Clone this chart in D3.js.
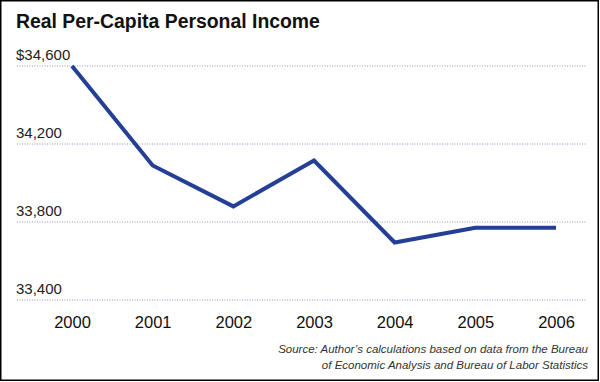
<!DOCTYPE html>
<html><head><meta charset="utf-8">
<script src="https://cdn.jsdelivr.net/npm/d3@7/dist/d3.min.js"></script>
<style>body{margin:0;background:#fff}svg{display:block}</style>
</head><body>
<script>
const years = ["2000","2001","2002","2003","2004","2005","2006"];
const income = [34600, 34090, 33880, 34115, 33695, 33770, 33770];
const yTicks = [33400, 33800, 34200, 34600];
const yTickLabels = ["33,400","33,800","34,200","$34,600"];

const W = 600, H = 382;
const svg = d3.select("body").append("svg").attr("width", W).attr("height", H);
svg.append("rect").attr("width", W).attr("height", H).attr("fill", "#fff");
svg.append("rect").attr("x", 0.75).attr("y", 0.75).attr("width", 597.5).attr("height", 379.5)
  .attr("fill", "none").attr("stroke", "#000").attr("stroke-width", 1.5);

const x = d3.scalePoint().domain(years).range([72, 556]);
const y = d3.scaleLinear().domain([33400, 34600]).range([300, 66]);

svg.append("text").attr("x", 16).attr("y", 28)
  .attr("font-family", "Liberation Sans, Arial, sans-serif").attr("font-weight", "bold")
  .attr("font-size", 19.4).attr("fill", "#111").text("Real Per-Capita Personal Income");

const g = svg.append("g");
yTicks.forEach((t, i) => {
  g.append("line").attr("x1", 17).attr("x2", 587).attr("y1", y(t)).attr("y2", y(t))
    .attr("stroke", "#8a96bb").attr("stroke-width", 1).attr("stroke-dasharray", "1,1.5");
  g.append("text").attr("x", 16).attr("y", y(t) - 6)
    .attr("font-family", "Liberation Sans, Arial, sans-serif").attr("font-size", 15)
    .attr("fill", "#222").text(yTickLabels[i]);
});

const xAxis = d3.axisBottom(x).tickSize(0).tickPadding(0);
const ax = svg.append("g").attr("transform", "translate(0,328)").call(xAxis);
ax.select(".domain").remove();
ax.selectAll("text").attr("font-family", "Liberation Sans, Arial, sans-serif")
  .attr("font-size", 16.5).attr("fill", "#111").attr("dy", 0);

const line = d3.line().x((d, i) => x(years[i])).y(d => y(d));
svg.append("path").datum(income).attr("d", line).attr("fill", "none")
  .attr("stroke", "#243f95").attr("stroke-width", 4).attr("stroke-linejoin", "miter");

const src = svg.append("text").attr("text-anchor", "end")
  .attr("font-family", "Liberation Sans, Arial, sans-serif").attr("font-style", "italic")
  .attr("font-size", 11.5).attr("fill", "#333");
src.append("tspan").attr("x", 588).attr("y", 353).text("Source: Author\u2019s calculations based on data from the Bureau");
src.append("tspan").attr("x", 588).attr("y", 369).text("of Economic Analysis and Bureau of Labor Statistics");
</script>
</body></html>
